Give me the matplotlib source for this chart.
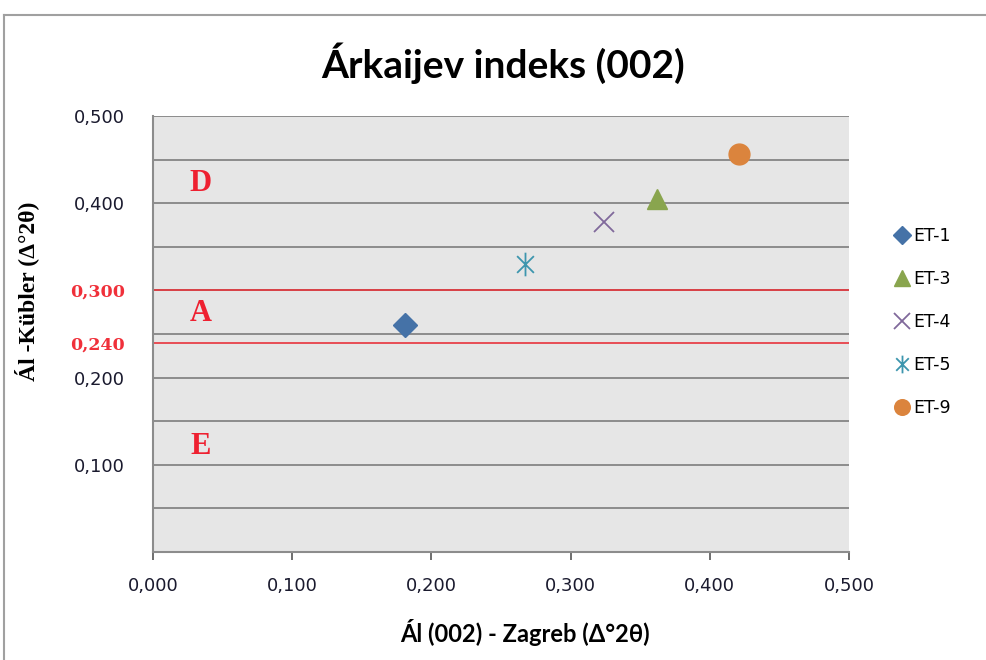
import matplotlib
matplotlib.use("Agg")
import matplotlib.pyplot as plt
from matplotlib.path import Path
from matplotlib.lines import Line2D

# sample names and measured values
samples = ["ET-1", "ET-3", "ET-4", "ET-5", "ET-9"]
ai_zagreb = [0.181, 0.362, 0.324, 0.267, 0.421]
ai_kubler = [0.260, 0.405, 0.378, 0.330, 0.456]

colors = ["#4572A7", "#89A54E", "#80699B", "#3D96AE", "#DB843D"]

# zone limits on the Kubler scale
limits = [0.300, 0.240]
zone_letters = ["D", "A", "E"]
zone_y = [0.423, 0.274, 0.121]

y_ticks = [0.5, 0.4, 0.3, 0.24, 0.2, 0.1]
x_ticks = [0.0, 0.1, 0.2, 0.3, 0.4, 0.5]

# excel style asterisk: vertical stroke plus an x
asterisk = Path(
    [(0, -1), (0, 1), (-0.71, -0.71), (0.71, 0.71), (-0.71, 0.71), (0.71, -0.71)],
    [Path.MOVETO, Path.LINETO, Path.MOVETO, Path.LINETO, Path.MOVETO, Path.LINETO],
)
markers = ["D", "^", "x", asterisk, "o"]
sizes = [12, 15, 15, 17, 15]
filled = [True, True, False, False, True]


def fmt(v):
    return f"{v:.3f}".replace(".", ",")


fig = plt.figure(figsize=(9.86, 6.6), dpi=100)
ax = fig.add_axes([153 / 986, 108 / 660, 696 / 986, 436 / 660])
ax.set_facecolor("#E6E6E6")

# outer chart frame (left and top edges)
fig.add_artist(Line2D([4 / 986, 4 / 986], [0, 1 - 15 / 660], color="#A0A0A0", lw=1.5,
                      transform=fig.transFigure))
fig.add_artist(Line2D([4 / 986, 1], [1 - 15 / 660, 1 - 15 / 660], color="#A0A0A0", lw=1.5,
                      transform=fig.transFigure))

for g in [0.05 * i for i in range(1, 11)]:
    ax.axhline(g, color="#8C8C8C", lw=1.4, zorder=1)
for lim in limits:
    ax.axhline(lim, color="#E8343C", lw=1.2, zorder=2)

for name, x, y, c, m, s, f in zip(samples, ai_zagreb, ai_kubler, colors, markers, sizes, filled):
    if f:
        ax.plot(x, y, linestyle="none", marker=m, ms=s, color=c, mec=c, label=name, zorder=3)
    else:
        ax.plot(x, y, linestyle="none", marker=m, ms=s, color=c, mew=1.3, label=name, zorder=3)

for letter, y in zip(zone_letters, zone_y):
    ax.text(0.034, y, letter, color="#EE2030", fontsize=22, fontweight="bold",
            family="Liberation Serif", ha="center", va="center")

ax.set_xlim(0, 0.5)
ax.set_ylim(0, 0.5)
ax.set_xticks(x_ticks)
ax.set_xticklabels([fmt(v) for v in x_ticks], fontsize=13, color="#1a1a2e")
ax.set_yticks(y_ticks)
ax.set_yticklabels([fmt(v) for v in y_ticks], fontsize=13, color="#1a1a2e")
for lab, v in zip(ax.get_yticklabels(), y_ticks):
    if v in limits:
        lab.set_color("#F0303A")
        lab.set_family("DejaVu Serif")
        lab.set_fontweight("bold")
        lab.set_fontsize(12.5)
ax.tick_params(axis="y", length=0, pad=20)
ax.tick_params(axis="x", length=6, width=1.2, color="#555555", pad=12, direction="out")

for side in ["top", "right"]:
    ax.spines[side].set_visible(False)
for side in ["left", "bottom"]:
    ax.spines[side].set_color("#8C8C8C")
    ax.spines[side].set_linewidth(1.5)

fig.text(503 / 986, 1 - 63 / 660, "Árkaijev indeks (002)", fontsize=28, fontweight="bold",
         family="Lato", ha="center", va="center")
fig.text(525 / 986, 1 - 633 / 660, "Ál (002) - Zagreb (Δ°2θ)", fontsize=17, fontweight="bold",
         family="Lato", ha="center", va="center")
fig.text(27 / 986, 1 - 291 / 660, "Ál -Kübler (Δ°2θ)", fontsize=17, fontweight="bold",
         family="Liberation Serif", rotation=90, ha="center", va="center")

leg = ax.legend(loc="center left", bbox_to_anchor=(879 / 986, 1 - 322 / 660),
                bbox_transform=fig.transFigure, frameon=False, fontsize=12.5,
                handlelength=0.8, handletextpad=0.3, labelspacing=1.45, markerscale=0.75)

fig.savefig("out.png", dpi=100, facecolor="white")
